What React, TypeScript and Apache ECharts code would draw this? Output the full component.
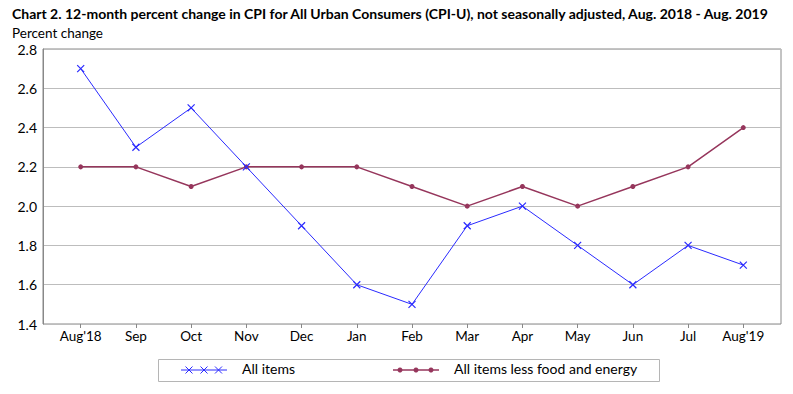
import React, { useEffect, useRef } from "react";
import * as echarts from "echarts";

const categories = ["Aug'18", "Sep", "Oct", "Nov", "Dec", "Jan", "Feb", "Mar", "Apr", "May", "Jun", "Jul", "Aug'19"];
const allItems = [2.7, 2.3, 2.5, 2.2, 1.9, 1.6, 1.5, 1.9, 2.0, 1.8, 1.6, 1.8, 1.7];
const coreItems = [2.2, 2.2, 2.1, 2.2, 2.2, 2.2, 2.1, 2.0, 2.1, 2.0, 2.1, 2.2, 2.4];
const seriesNames = ["All items", "All items less food and energy"];
const titleText = "Chart 2. 12-month percent change in CPI for All Urban Consumers (CPI-U), not seasonally adjusted, Aug. 2018 - Aug. 2019";
const yTitle = "Percent change";

const FONT = "Lato";
const BLUE = "#2a2aff";
const MAROON = "#96365c";
const CROSS = "path://M0,0L10,10M0,10L10,0";

export default function App() {
  const ref = useRef<HTMLDivElement>(null);
  useEffect(() => {
    if (!ref.current) return;
    const chart = echarts.init(ref.current, null, { renderer: "svg" });
    const legendY = 370;
    const crossG = (cx: number) => ({
      type: "group",
      children: [
        { type: "line", shape: { x1: cx - 3.5, y1: legendY - 3.5, x2: cx + 3.5, y2: legendY + 3.5 }, style: { stroke: BLUE, lineWidth: 1 } },
        { type: "line", shape: { x1: cx - 3.5, y1: legendY + 3.5, x2: cx + 3.5, y2: legendY - 3.5 }, style: { stroke: BLUE, lineWidth: 1 } },
      ],
    });
    chart.setOption({
      animation: false,
      textStyle: { fontFamily: FONT },
      title: [
        { text: titleText, left: 12, top: 5, padding: 0, textStyle: { fontSize: 14, fontWeight: "bold", color: "#000", fontFamily: FONT, lineHeight: 16 } },
        { text: yTitle, left: 12, top: 25, padding: 0, textStyle: { fontSize: 13.5, fontWeight: "normal", color: "#000", fontFamily: FONT, lineHeight: 15 } },
      ],
      grid: [
        { left: 43, right: 12, top: 49, bottom: 70, show: true, borderColor: "#888", borderWidth: 1 },
        { left: 80.7, right: 49.7, top: 49, bottom: 70 },
      ],
      xAxis: [
        { type: "value", gridIndex: 0, min: 0, max: 1, show: false },
        {
          type: "category", gridIndex: 1, data: categories, boundaryGap: false,
          axisLine: { show: false },
          axisTick: { show: true, length: 4, lineStyle: { color: "#888" } },
          axisLabel: { color: "#000", fontSize: 13.5, margin: 5, fontFamily: FONT },
          splitLine: { show: false },
        },
      ],
      yAxis: [
        {
          type: "value", gridIndex: 0, min: 1.4, max: 2.8, interval: 0.2,
          axisLine: { show: true, lineStyle: { color: "#888" } },
          axisTick: { show: false },
          axisLabel: { color: "#000", fontSize: 14, lineHeight: 14, margin: 6, formatter: (v: number) => v.toFixed(1), fontFamily: FONT },
          splitLine: { show: true, lineStyle: { color: "#bdbdbd", width: 1 } },
        },
        { type: "value", gridIndex: 1, min: 1.4, max: 2.8, interval: 0.2, show: false, splitLine: { show: false } },
      ],
      series: [
        {
          name: seriesNames[1], type: "line", xAxisIndex: 1, yAxisIndex: 1, data: coreItems,
          symbol: "circle", symbolSize: 5, showAllSymbol: true,
          lineStyle: { color: MAROON, width: 1.5 }, itemStyle: { color: MAROON },
        },
        {
          name: seriesNames[0], type: "line", xAxisIndex: 1, yAxisIndex: 1, data: allItems,
          symbol: CROSS, symbolSize: 7, showAllSymbol: true,
          lineStyle: { color: BLUE, width: 1 },
          itemStyle: { color: "none", borderColor: BLUE, borderWidth: 1.2 },
        },
      ],
      graphic: [
        { type: "rect", shape: { x: 158.5, y: 359.5, width: 501, height: 22 }, style: { fill: "#fff", stroke: "#b5b5b5", lineWidth: 1 } },
        { type: "line", shape: { x1: 181, y1: legendY, x2: 227, y2: legendY }, style: { stroke: BLUE, lineWidth: 1 } },
        crossG(189), crossG(204), crossG(218.5),
        { type: "text", left: 242, top: legendY - 8.5, style: { text: seriesNames[0], fontSize: 14, fill: "#000", fontFamily: FONT } },
        { type: "line", shape: { x1: 393, y1: legendY, x2: 439, y2: legendY }, style: { stroke: MAROON, lineWidth: 1.5 } },
        { type: "circle", shape: { cx: 400, cy: legendY, r: 2.5 }, style: { fill: MAROON } },
        { type: "circle", shape: { cx: 416, cy: legendY, r: 2.5 }, style: { fill: MAROON } },
        { type: "circle", shape: { cx: 431, cy: legendY, r: 2.5 }, style: { fill: MAROON } },
        { type: "text", left: 454, top: legendY - 8.5, style: { text: seriesNames[1], fontSize: 14, fill: "#000", fontFamily: FONT } },
      ],
    });
    return () => chart.dispose();
  }, []);
  return <div ref={ref} style={{ width: 793, height: 394, position: "absolute", left: 0, top: 0 }} />;
}
